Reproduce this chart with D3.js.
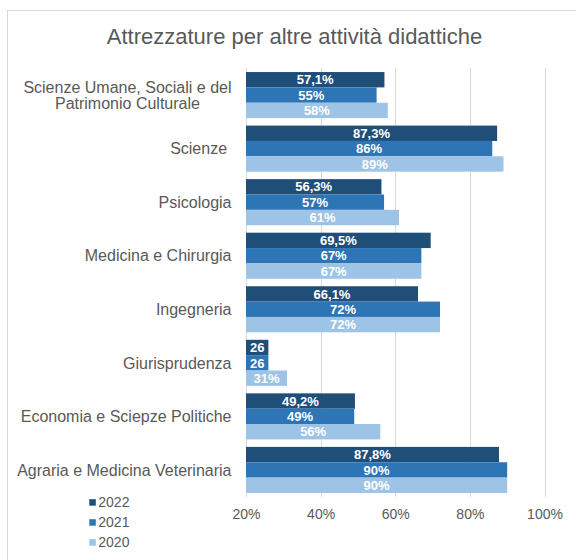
<!DOCTYPE html>
<html>
<head>
<meta charset="utf-8">
<script src="https://cdn.jsdelivr.net/npm/d3@7"></script>
<style>
  html, body { margin: 0; padding: 0; background: #ffffff; }
  svg { display: block; }
  text { font-family: "Liberation Sans", Arial, sans-serif; }
</style>
</head>
<body>
<svg id="chart" width="576" height="560"></svg>
<script>
const title = "Attrezzature per altre attività didattiche";
const categories = [
  "Scienze Umane, Sociali e del\nPatrimonio Culturale",
  "Scienze ",
  "Psicologia",
  "Medicina e Chirurgia",
  "Ingegneria",
  "Giurisprudenza",
  "Economia e Sciepze Politiche",
  "Agraria e Medicina Veterinaria"
];
const years = ["2022", "2021", "2020"];
const values2022 = [57.1, 87.3, 56.3, 69.5, 66.1, 26, 49.2, 87.8];
const values2021 = [55, 86, 57, 67, 72, 26, 49, 90];
const values2020 = [58, 89, 61, 67, 72, 31, 56, 90];
const labels2022 = ["57,1%", "87,3%", "56,3%", "69,5%", "66,1%", "26", "49,2%", "87,8%"];
const labels2021 = ["55%", "86%", "57%", "67%", "72%", "26", "49%", "90%"];
const labels2020 = ["58%", "89%", "61%", "67%", "72%", "31%", "56%", "90%"];
const tickValues = [20, 40, 60, 80, 100];
const xDomain = [20, 100];

const colors = { "2022": "#1f4e79", "2021": "#2e75b6", "2020": "#9dc3e6" };
const seriesValues = { "2022": values2022, "2021": values2021, "2020": values2020 };
const seriesLabels = { "2022": labels2022, "2021": labels2021, "2020": labels2020 };

const svg = d3.select("#chart");
const textColor = "#595959";
const gridColor = "#d9d9d9";

// outer border box
svg.append("rect")
  .attr("x", 7.5).attr("y", 10.5)
  .attr("width", 600).attr("height", 600)
  .attr("fill", "#ffffff")
  .attr("stroke", gridColor).attr("stroke-width", 1);

// title
svg.append("text")
  .attr("x", 294.5).attr("y", 43.5)
  .attr("text-anchor", "middle")
  .attr("fill", textColor)
  .attr("font-size", 22)
  .text(title);

const plotTop = 68.3, plotBottom = 496.7;
const x = d3.scaleLinear().domain(xDomain).range([246, 544.5]);
const y = d3.scaleBand().domain(categories).range([plotTop, plotBottom])
  .paddingInner(0.14).paddingOuter(0.07);
const ySub = d3.scaleBand().domain(years).range([0, y.bandwidth()]);

// gridlines
svg.append("g").selectAll("line")
  .data(tickValues)
  .join("line")
  .attr("x1", d => Math.round(x(d)) + 0.5).attr("x2", d => Math.round(x(d)) + 0.5)
  .attr("y1", plotTop).attr("y2", plotBottom)
  .attr("stroke", gridColor).attr("stroke-width", 1);

// x axis labels
const xAxis = d3.axisBottom(x).tickValues(tickValues).tickSize(0).tickPadding(12)
  .tickFormat(d => d + "%");
const gx = svg.append("g").attr("transform", `translate(0,${plotBottom})`).call(xAxis);
gx.select(".domain").remove();
gx.selectAll("text")
  .attr("fill", textColor)
  .attr("font-size", 14)
  .attr("font-family", "'Liberation Sans', Arial, sans-serif");

// bars
const groups = svg.append("g").selectAll("g")
  .data(categories)
  .join("g")
  .attr("transform", d => `translate(0,${y(d)})`);

groups.each(function(cat, i) {
  const g = d3.select(this);
  years.forEach(yr => {
    const v = seriesValues[yr][i];
    g.append("rect")
      .attr("x", x(xDomain[0]))
      .attr("y", ySub(yr))
      .attr("width", x(v) - x(xDomain[0]))
      .attr("height", ySub.bandwidth())
      .attr("fill", colors[yr]);
    g.append("text")
      .attr("x", (x(xDomain[0]) + x(v)) / 2)
      .attr("y", ySub(yr) + ySub.bandwidth() / 2)
      .attr("dy", "0.36em")
      .attr("text-anchor", "middle")
      .attr("fill", "#ffffff")
      .attr("font-size", 13)
      .attr("font-weight", "bold")
      .text(seriesLabels[yr][i]);
  });
});

// category labels
const labelRight = 231.5;
const lineH = 16;
categories.forEach(cat => {
  const lines = cat.split("\n");
  const cy = y(cat) + y.bandwidth() / 2;
  const t = svg.append("text")
    .attr("fill", textColor)
    .attr("font-size", 16)
    .style("white-space", "pre");
  if (lines.length === 1) {
    t.attr("x", labelRight).attr("y", cy).attr("dy", "0.36em")
      .attr("text-anchor", "end").text(lines[0]);
  } else {
    const spans = lines.map((ln, k) => t.append("tspan")
      .attr("y", cy + (k - (lines.length - 1) / 2) * lineH)
      .attr("dy", "0.36em")
      .text(ln));
    const w0 = spans[0].node().getComputedTextLength();
    const cx = labelRight - w0 / 2;
    t.attr("text-anchor", "middle");
    spans.forEach(s => s.attr("x", cx));
  }
});

// legend
const legend = svg.append("g").selectAll("g")
  .data(years)
  .join("g")
  .attr("transform", (d, i) => `translate(89.3,${506.7 + i * 20})`);
legend.append("rect")
  .attr("x", 0).attr("y", -7.5)
  .attr("width", 6.5).attr("height", 6.5)
  .attr("fill", d => colors[d]);
legend.append("text")
  .attr("x", 9).attr("y", 0)
  .attr("fill", textColor)
  .attr("font-size", 14)
  .text(d => d);
</script>
</body>
</html>
